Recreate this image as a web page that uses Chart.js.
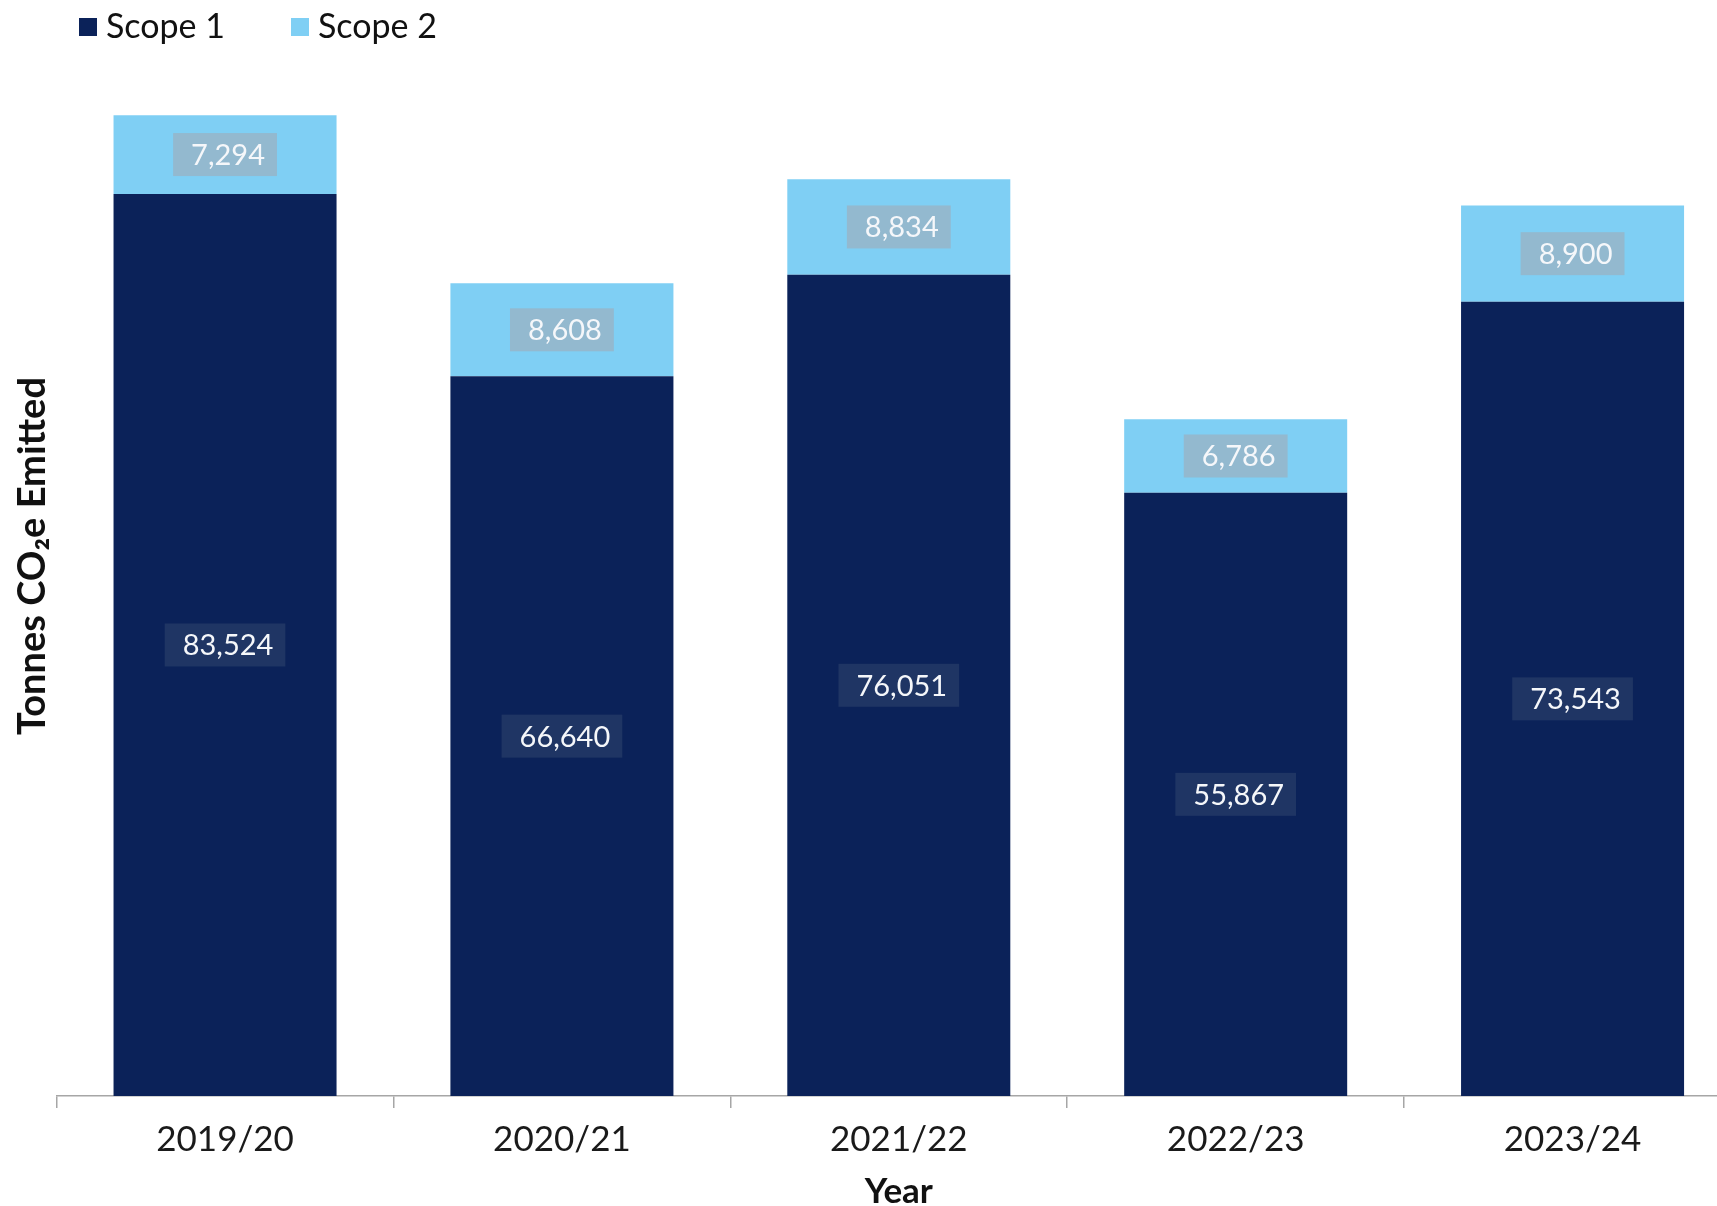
<!DOCTYPE html>
<html>
<head>
<meta charset="utf-8">
<title>Scope 1 and 2 emissions</title>
<script src="https://cdn.jsdelivr.net/npm/chart.js@4.4.1/dist/chart.umd.min.js"></script>
<style>
  html, body { margin: 0; padding: 0; background: #fff; overflow: hidden; }
  #wrap { width: 1741px; height: 1206px; }
</style>
</head>
<body>
<div id="wrap"><canvas id="emissionsChart" width="1741" height="1206"></canvas></div>
<script>
// Tonnes CO2e per financial year
const years = ['2019/20', '2020/21', '2021/22', '2022/23', '2023/24'];
const scope1 = [83524, 66640, 76051, 55867, 73543];
const scope2 = [7294, 8608, 8834, 6786, 8900];
const yMax = 100000;

const ctx = document.getElementById('emissionsChart').getContext('2d');

Chart.defaults.font.family = 'Lato';
Chart.defaults.color = '#1a1a1a';

// value boxes in the middle of each bar segment
const barLabels = {
  id: 'barLabels',
  afterDatasetsDraw(chart) {
    const c = chart.ctx;
    c.save();
    c.font = '29px Lato';
    c.textAlign = 'center';
    c.textBaseline = 'middle';
    chart.data.datasets.forEach((ds, i) => {
      chart.getDatasetMeta(i).data.forEach((bar, j) => {
        const text = ds.data[j].toLocaleString('en-GB');
        const w = c.measureText(text).width + 30;
        const h = 43;
        const cy = (bar.y + bar.base) / 2;
        c.fillStyle = ds.boxColor;
        c.fillRect(bar.x - w / 2, cy - h / 2, w, h);
        c.fillStyle = '#f5f7fa';
        c.fillText(text, bar.x + 3, cy + 1);
      });
    });
    c.restore();
  }
};

// legend sits over the top of the plot
const topLegend = {
  id: 'topLegend',
  afterDraw(chart) {
    const c = chart.ctx;
    const xs = [79, 291];
    c.save();
    c.font = '34px Lato';
    c.textBaseline = 'middle';
    chart.data.datasets.forEach((ds, i) => {
      c.fillStyle = ds.backgroundColor;
      c.fillRect(xs[i], 18, 18, 18);
      c.fillStyle = '#111';
      c.fillText(ds.label, xs[i] + 27, 27);
    });
    c.restore();
  }
};

new Chart(ctx, {
  type: 'bar',
  data: {
    labels: years,
    datasets: [
      { label: 'Scope 1', data: scope1, backgroundColor: '#0B2259', boxColor: '#1F3564' },
      { label: 'Scope 2', data: scope2, backgroundColor: '#7FCFF4', boxColor: '#93B9CF' }
    ]
  },
  options: {
    responsive: false,
    animation: false,
    barPercentage: 0.662,
    categoryPercentage: 1,
    layout: { padding: { top: 16, left: 0, right: 0, bottom: 0 } },
    plugins: {
      legend: { display: false },
      tooltip: { enabled: false }
    },
    scales: {
      x: {
        stacked: true,
        grid: {
          display: true,
          drawOnChartArea: false,
          drawTicks: true,
          tickLength: 12,
          offset: true,
          color: '#a6a6a6',
          lineWidth: 1.5
        },
        border: { display: true, color: '#a6a6a6', width: 1.5 },
        ticks: { font: { size: 35, lineHeight: 1 }, color: '#1a1a1a', padding: 14 },
        title: {
          display: true,
          text: 'Year',
          font: { size: 35, weight: 'bold', lineHeight: 0.8 },
          color: '#111',
          padding: { top: 7, bottom: 0 }
        }
      },
      y: {
        stacked: true,
        min: 0,
        max: yMax,
        grid: { display: false, drawTicks: false },
        border: { display: false },
        ticks: { display: false },
        title: {
          display: true,
          text: 'Tonnes CO₂e Emitted',
          font: { size: 38, weight: 'bold' },
          color: '#111',
          padding: { top: 10, bottom: 1 }
        }
      }
    }
  },
  plugins: [barLabels, topLegend]
});
</script>
</body>
</html>
